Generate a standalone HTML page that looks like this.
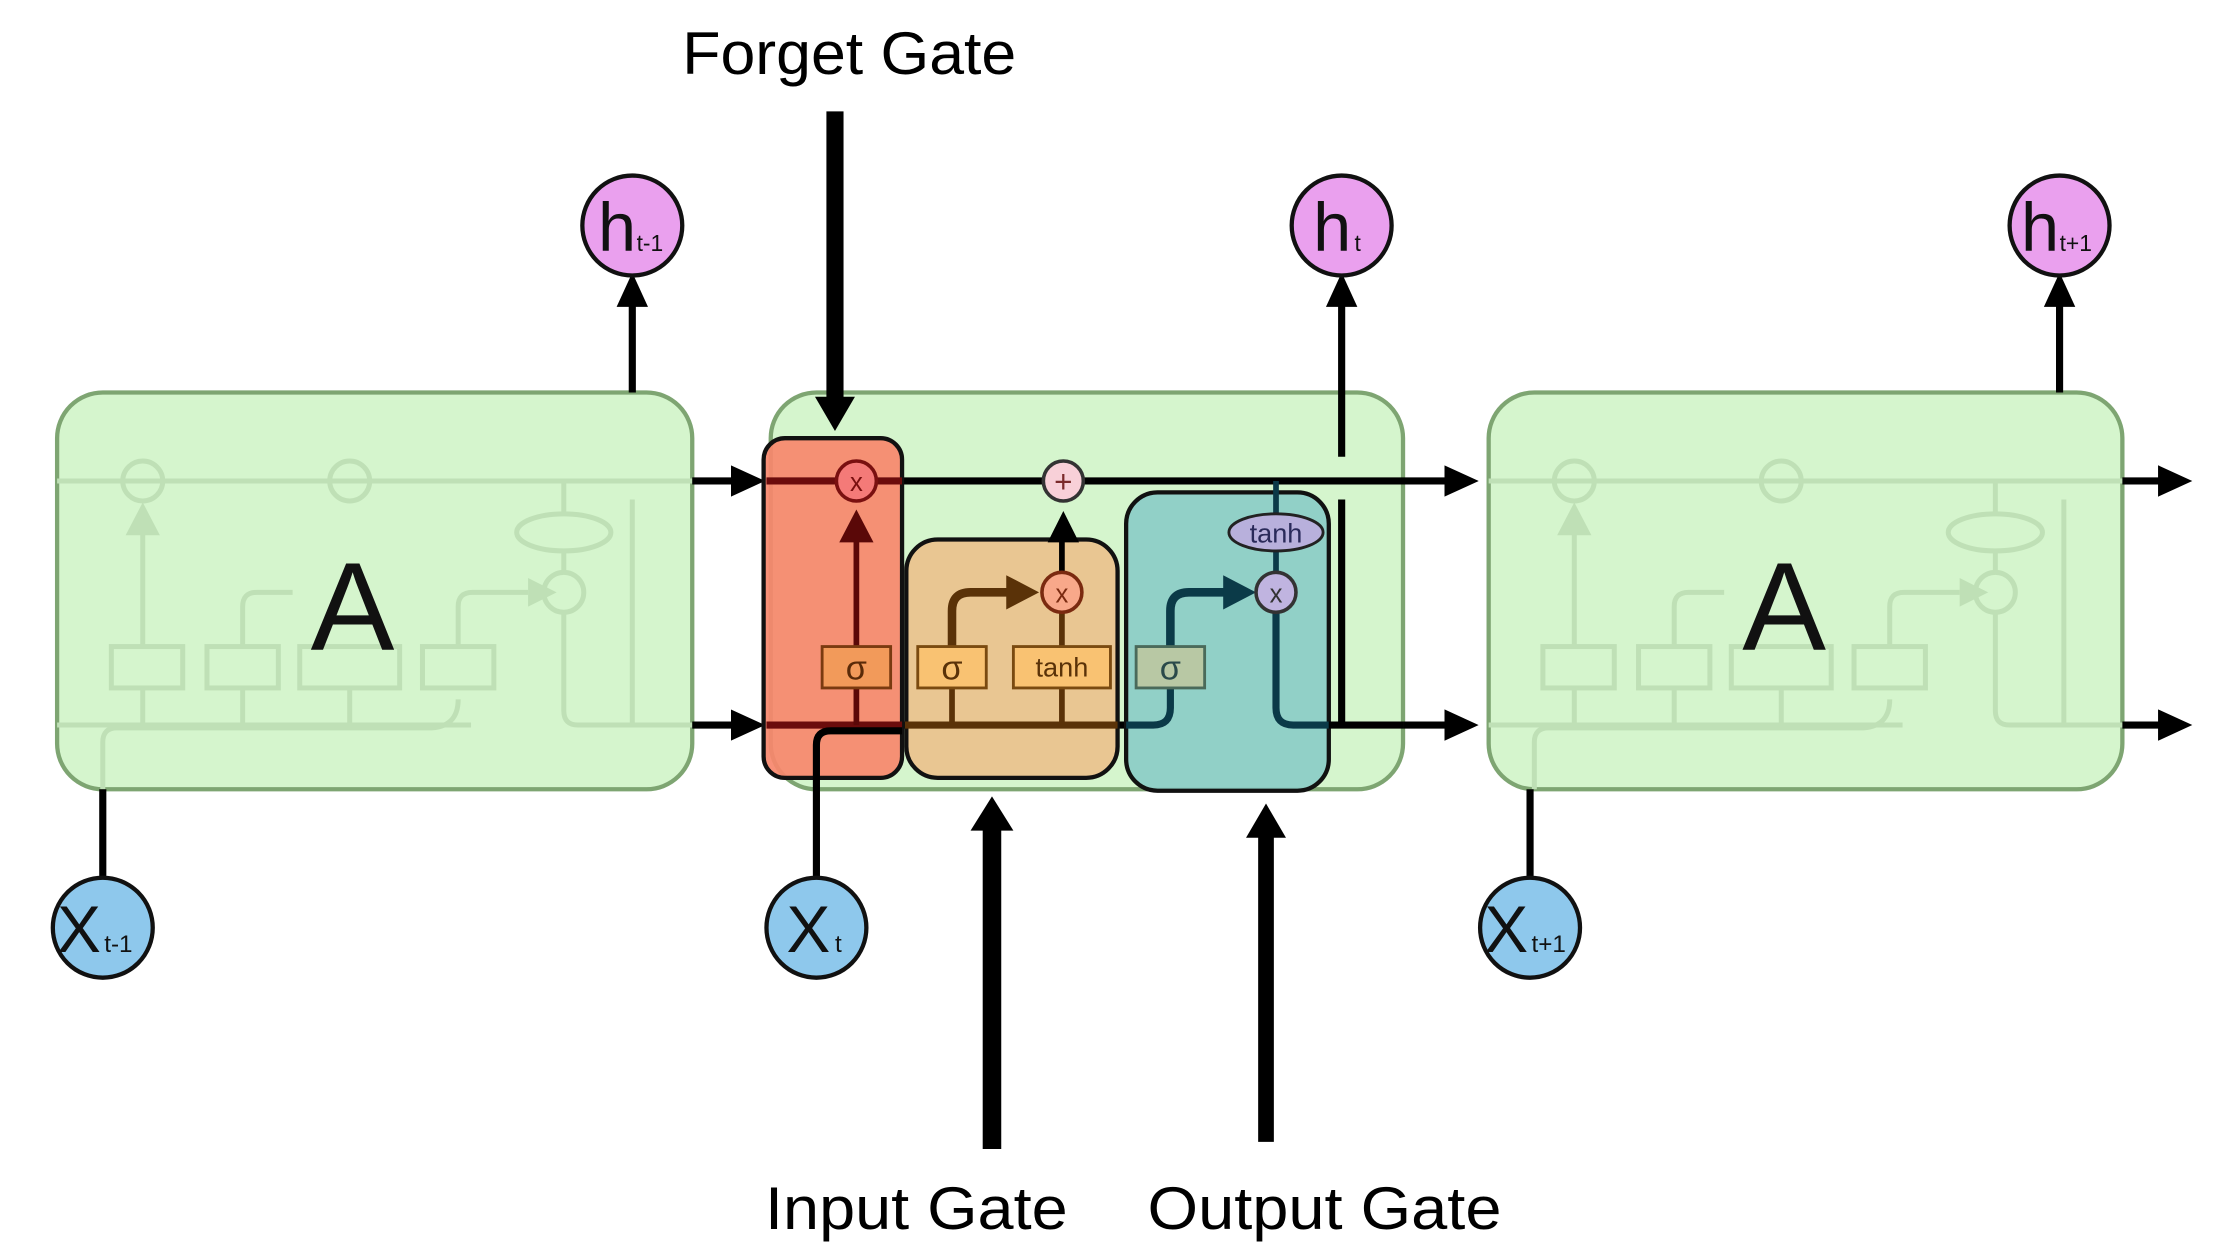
<!DOCTYPE html>
<html><head><meta charset="utf-8"><style>html,body{margin:0;padding:0;background:#fff}svg{display:block}</style></head>
<body>
<svg width="2238" height="1257" viewBox="0 0 1568 880.7" xmlns="http://www.w3.org/2000/svg" font-family="Liberation Sans, sans-serif">
<defs>
<marker id="ah" markerWidth="24" markerHeight="24" refX="10" refY="12" orient="auto" markerUnits="userSpaceOnUse" viewBox="0 0 24 24"><path d="M0,1 L24,12 L0,23 z" fill="#000"/></marker>
<g id="fade" fill="none" stroke="#bfe0b6" stroke-width="3.5">
<line x1="0" y1="337" x2="445" y2="337"/>
<circle cx="60" cy="337" r="14"/>
<circle cx="205" cy="337" r="14"/>
<line x1="60" y1="453" x2="60" y2="372"/>
<path d="M48,375 L60,352 L72,375 z" fill="#bfe0b6" stroke="none"/>
<rect x="38" y="453" width="50" height="29"/>
<rect x="105" y="453" width="50" height="29"/>
<rect x="170" y="453" width="70" height="29"/>
<rect x="256" y="453" width="50" height="29"/>
<path d="M130,453 V425 Q130,415 140,415 H165"/>
<path d="M281,453 V425 Q281,415 291,415 H330"/>
<path d="M330,405 L350,415 L330,425 z" fill="#bfe0b6" stroke="none"/>
<circle cx="355" cy="415" r="14"/>
<ellipse cx="355" cy="373" rx="33" ry="13"/>
<line x1="355" y1="337" x2="355" y2="360"/>
<line x1="355" y1="386" x2="355" y2="401"/>
<path d="M355,429 V498 Q355,508 365,508 H445"/>
<line x1="403" y1="350" x2="403" y2="508"/>
<path d="M32,553 V520 Q32,510 42,510 H260 Q281,510 281,490"/>
<line x1="0" y1="508" x2="290" y2="508"/>
<line x1="60" y1="482" x2="60" y2="508"/>
<line x1="130" y1="482" x2="130" y2="508"/>
<line x1="205" y1="482" x2="205" y2="508"/>
</g>
</defs>

<rect x="40" y="275" width="445" height="278" rx="32" fill="#d5f5cd" stroke="#7ea572" stroke-width="3"/>
<use href="#fade" x="40"/>
<rect x="1043" y="275" width="444" height="278" rx="32" fill="#d5f5cd" stroke="#7ea572" stroke-width="3"/>
<use href="#fade" x="1043"/>
<text x="247" y="455" font-size="88" text-anchor="middle" fill="#111">A</text>
<text x="1250" y="455" font-size="88" text-anchor="middle" fill="#111">A</text>

<rect x="540" y="275" width="443" height="278" rx="32" fill="#d5f5cd" stroke="#7ea572" stroke-width="3"/>

<line x1="443" y1="275" x2="443" y2="205" stroke="#000" stroke-width="5" marker-end="url(#ah)"/>
<line x1="1443" y1="275" x2="1443" y2="205" stroke="#000" stroke-width="5" marker-end="url(#ah)"/>
<line x1="940" y1="320" x2="940" y2="205" stroke="#000" stroke-width="5" marker-end="url(#ah)"/>
<line x1="940" y1="350" x2="940" y2="508" stroke="#000" stroke-width="5"/>

<line x1="72" y1="553" x2="72" y2="615" stroke="#000" stroke-width="5"/>
<line x1="1072" y1="553" x2="1072" y2="615" stroke="#000" stroke-width="5"/>

<g stroke="#000" stroke-width="5">
<line x1="485" y1="337" x2="522" y2="337" marker-end="url(#ah)"/>
<line x1="485" y1="508" x2="522" y2="508" marker-end="url(#ah)"/>
<line x1="983" y1="508" x2="1022" y2="508" marker-end="url(#ah)"/>
<line x1="1487" y1="337" x2="1522" y2="337" marker-end="url(#ah)"/>
<line x1="1487" y1="508" x2="1522" y2="508" marker-end="url(#ah)"/>
<line x1="540" y1="337" x2="1022" y2="337" marker-end="url(#ah)"/>
<line x1="540" y1="508" x2="790" y2="508"/>
</g>

<rect x="535" y="307" width="97" height="238" rx="15" fill="#f7876d" fill-opacity="0.92" stroke="#111" stroke-width="3"/>
<rect x="635" y="378" width="148" height="167" rx="22" fill="#eac38e" fill-opacity="0.95" stroke="#111" stroke-width="3"/>
<rect x="789" y="345" width="142" height="209" rx="22" fill="#8dcdc6" fill-opacity="0.95" stroke="#111" stroke-width="3"/>

<line x1="537" y1="337" x2="632" y2="337" stroke="#6b0c0c" stroke-width="5"/>
<line x1="537" y1="508" x2="632" y2="508" stroke="#6b0c0c" stroke-width="5"/>
<line x1="600" y1="453" x2="600" y2="378" stroke="#5a0808" stroke-width="4"/>
<path d="M588,380 L600,357 L612,380 z" fill="#5a0808"/>
<line x1="600" y1="482" x2="600" y2="508" stroke="#5a0808" stroke-width="4"/>
<circle cx="600" cy="337" r="14" fill="#f47a78" stroke="#7a1010" stroke-width="2.5"/>
<text x="600" y="344" font-size="18" text-anchor="middle" fill="#7a1010">x</text>
<rect x="576" y="453" width="48" height="29" fill="#f29a5a" stroke="#7a3a10" stroke-width="2"/>
<text x="600" y="476" font-size="24" text-anchor="middle" fill="#5a2a08">σ</text>
<path d="M572,615 V522 Q572,512 582,512 H632" fill="none" stroke="#000" stroke-width="5"/>

<line x1="634" y1="508" x2="783" y2="508" stroke="#5a3208" stroke-width="5"/>
<line x1="667" y1="482" x2="667" y2="508" stroke="#5a3208" stroke-width="4"/>
<line x1="744" y1="482" x2="744" y2="508" stroke="#5a3208" stroke-width="4"/>
<path d="M667,453 V428 Q667,415 680,415 H712" fill="none" stroke="#5a3208" stroke-width="6"/>
<path d="M705,403 L728,415 L705,427 z" fill="#5a3208"/>
<line x1="744" y1="453" x2="744" y2="429" stroke="#5a3208" stroke-width="4"/>
<line x1="744" y1="401" x2="744" y2="372" stroke="#000" stroke-width="4"/>
<path d="M734,380 L745,358 L756,380 z" fill="#000"/>
<circle cx="744" cy="415" r="14" fill="#f8a88a" stroke="#7a2a10" stroke-width="2.5"/>
<text x="744" y="422" font-size="18" text-anchor="middle" fill="#7a2a10">x</text>
<circle cx="745" cy="337" r="14" fill="#f8d0d8" stroke="#333" stroke-width="2.5"/>
<text x="745" y="345" font-size="22" text-anchor="middle" fill="#7a2a2a">+</text>
<rect x="643" y="453" width="48" height="29" fill="#f9c272" stroke="#7a4a10" stroke-width="2"/>
<text x="667" y="476" font-size="24" text-anchor="middle" fill="#5a3208">σ</text>
<rect x="710" y="453" width="68" height="29" fill="#f9c272" stroke="#7a4a10" stroke-width="2"/>
<text x="744" y="474" font-size="19" text-anchor="middle" fill="#5a3208">tanh</text>

<path d="M789,508 H808 Q820,508 820,496 V482" fill="none" stroke="#0b3a48" stroke-width="5"/>
<path d="M820,453 V428 Q820,415 833,415 H862" fill="none" stroke="#0b3a48" stroke-width="6"/>
<path d="M857,403 L880,415 L857,427 z" fill="#0b3a48"/>
<line x1="894" y1="337" x2="894" y2="360" stroke="#0b3a48" stroke-width="4"/>
<line x1="894" y1="386" x2="894" y2="401" stroke="#0b3a48" stroke-width="4"/>
<path d="M894,429 V496 Q894,508 906,508 H931" fill="none" stroke="#0b3a48" stroke-width="5"/>
<line x1="931" y1="508" x2="983" y2="508" stroke="#000" stroke-width="5"/>
<ellipse cx="894" cy="373" rx="33" ry="13" fill="#b8b0dc" stroke="#222" stroke-width="2"/>
<text x="894" y="380" font-size="19" text-anchor="middle" fill="#2a2a5a">tanh</text>
<circle cx="894" cy="415" r="14" fill="#c0b4e0" stroke="#333" stroke-width="2.5"/>
<text x="894" y="422" font-size="18" text-anchor="middle" fill="#333">x</text>
<rect x="796" y="453" width="48" height="29" fill="#b8c8a4" stroke="#4a6a5a" stroke-width="2"/>
<text x="820" y="476" font-size="24" text-anchor="middle" fill="#2a4a4a">σ</text>

<g stroke="#111" stroke-width="3" fill="#eaa0ee">
<circle cx="443" cy="158" r="35"/><circle cx="940" cy="158" r="35"/><circle cx="1443" cy="158" r="35"/>
</g>
<g fill="#111">
<text x="419" y="176" font-size="48">h</text><text x="446" y="176" font-size="16">t-1</text>
<text x="920" y="176" font-size="48">h</text><text x="949" y="176" font-size="16">t</text>
<text x="1416" y="176" font-size="48">h</text><text x="1443" y="176" font-size="16">t+1</text>
</g>
<g stroke="#111" stroke-width="3" fill="#8ec8ec">
<circle cx="72" cy="650" r="35"/><circle cx="572" cy="650" r="35"/><circle cx="1072" cy="650" r="35"/>
</g>
<g fill="#111">
<text x="40" y="667" font-size="46">X</text><text x="73" y="667" font-size="17">t-1</text>
<text x="551" y="667" font-size="46">X</text><text x="585" y="667" font-size="17">t</text>
<text x="1040" y="667" font-size="46">X</text><text x="1073" y="667" font-size="17">t+1</text>
</g>

<line x1="585" y1="78" x2="585" y2="280" stroke="#000" stroke-width="12"/>
<path d="M571,278 L585,302 L599,278 z" fill="#000"/>
<line x1="695" y1="805" x2="695" y2="580" stroke="#000" stroke-width="13"/>
<path d="M680,582 L695,558 L710,582 z" fill="#000"/>
<line x1="887" y1="800" x2="887" y2="585" stroke="#000" stroke-width="11"/>
<path d="M873,587 L887,563 L901,587 z" fill="#000"/>

<g font-size="42" fill="#000">
<text x="478" y="52" textLength="234" lengthAdjust="spacingAndGlyphs">Forget Gate</text>
<text x="536" y="861" textLength="212" lengthAdjust="spacingAndGlyphs">Input Gate</text>
<text x="804" y="861" textLength="248" lengthAdjust="spacingAndGlyphs">Output Gate</text>
</g>
</svg>
</body></html>
